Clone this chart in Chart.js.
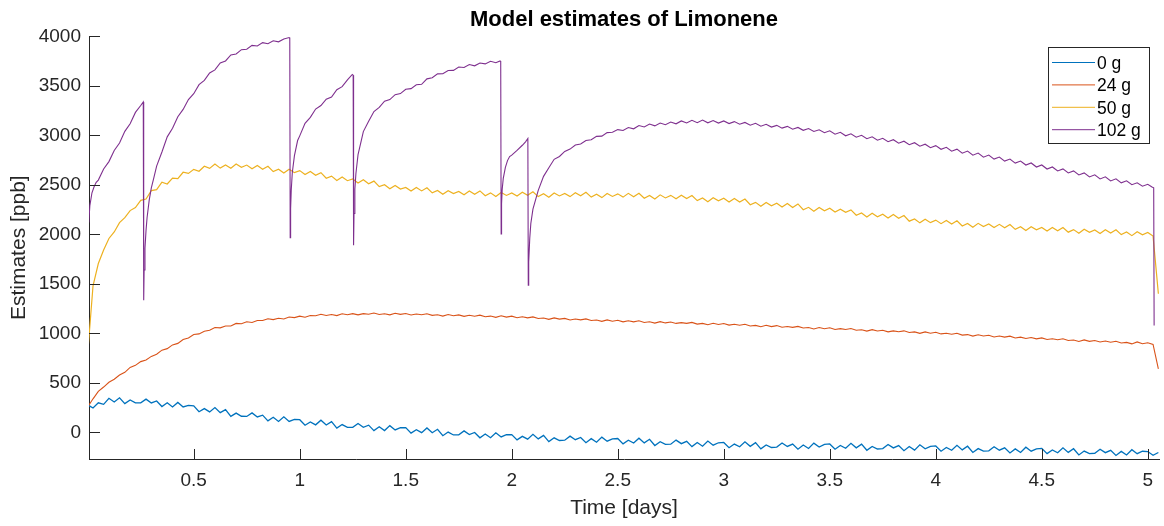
<!DOCTYPE html>
<html>
<head>
<meta charset="utf-8">
<title>Model estimates of Limonene</title>
<script src="https://cdn.jsdelivr.net/npm/chart.js@4.4.1/dist/chart.umd.min.js"></script>
<style>
  html, body { margin: 0; padding: 0; background: #fff; }
  #limoneneChart { display: block; }
</style>
</head>
<body>
<canvas id="limoneneChart" width="1164" height="526"></canvas>
<script>
// Sample times in days (one reading every 0.025 d, 0 .. 5.05)
const days = Array.from({ length: 203 }, (_, i) => +(i * 0.025).toFixed(3));

const seriesLabels = ["0 g", "24 g", "50 g", "102 g"];
const seriesColors = ["#0072BD", "#D95319", "#EDB120", "#7E2F8E"];

const xTickValues = [0.5, 1, 1.5, 2, 2.5, 3, 3.5, 4, 4.5, 5];
const yTickValues = [0, 500, 1000, 1500, 2000, 2500, 3000, 3500, 4000];

// 0 g estimates [ppb] (noisy)
const est0g = [
  277, 245, 298, 282, 343, 306, 348, 290, 327, 298,
  297, 335, 296, 316, 260, 298, 256, 302, 256, 272,
  267, 208, 239, 206, 250, 198, 229, 161, 194, 162,
  160, 196, 155, 173, 115, 151, 109, 156, 110, 129,
  127, 71, 105, 75, 122, 73, 107, 42, 78, 49,
  50, 89, 51, 72, 17, 56, 17, 67, 24, 46,
  47, -9, 26, -4, 44, -5, 30, -35, 2, -27,
  -25, 14, -23, -2, -56, -17, -55, -5, -47, -25,
  -23, -77, -41, -69, -20, -67, -31, -94, -56, -83,
  -80, -39, -75, -52, -105, -64, -101, -49, -90, -66,
  -63, -117, -81, -109, -60, -107, -71, -134, -96, -123,
  -120, -79, -115, -92, -145, -104, -141, -89, -130, -106,
  -103, -156, -119, -146, -96, -142, -105, -167, -128, -154,
  -150, -108, -143, -119, -171, -129, -164, -110, -149, -123,
  -118, -171, -134, -161, -111, -157, -120, -182, -143, -169,
  -165, -123, -158, -134, -186, -144, -180, -127, -167, -142,
  -138, -191, -154, -182, -132, -178, -141, -204, -165, -191,
  -187, -146, -181, -157, -209, -168, -204, -151, -191, -167,
  -163, -216, -179, -207, -157, -203, -166, -229, -190, -216,
  -212, -171, -206, -182, -234, -193, -229, -176, -216, -192,
  -195, -232, -204
];

// 24 g estimates [ppb]
const est24g = [
  255, 338, 413, 457, 505, 536, 579, 606, 655, 676,
  714, 731, 767, 789, 830, 845, 883, 898, 938, 953,
  988, 994, 1021, 1031, 1059, 1055, 1074, 1074, 1100, 1097,
  1116, 1110, 1130, 1129, 1147, 1138, 1152, 1145, 1165, 1159,
  1173, 1163, 1179, 1177, 1193, 1180, 1190, 1179, 1197, 1188,
  1199, 1186, 1199, 1192, 1205, 1190, 1198, 1186, 1202, 1191,
  1200, 1185, 1195, 1187, 1198, 1181, 1188, 1174, 1190, 1178,
  1186, 1171, 1182, 1173, 1184, 1168, 1174, 1161, 1177, 1164,
  1173, 1157, 1167, 1156, 1166, 1149, 1155, 1141, 1156, 1143,
  1151, 1135, 1145, 1136, 1146, 1129, 1135, 1121, 1136, 1122,
  1132, 1116, 1127, 1116, 1127, 1110, 1116, 1103, 1118, 1105,
  1114, 1100, 1108, 1100, 1110, 1093, 1100, 1086, 1101, 1089,
  1099, 1083, 1091, 1081, 1091, 1074, 1080, 1066, 1081, 1068,
  1078, 1061, 1069, 1060, 1070, 1053, 1058, 1044, 1059, 1046,
  1056, 1038, 1047, 1038, 1048, 1031, 1036, 1022, 1037, 1024,
  1031, 1015, 1025, 1016, 1025, 1008, 1014, 1000, 1014, 1001,
  1011, 994, 1000, 991, 1000, 982, 987, 972, 986, 973,
  980, 963, 972, 962, 971, 953, 961, 947, 958, 944,
  954, 938, 945, 935, 945, 927, 933, 918, 933, 919,
  927, 913, 922, 910, 920, 902, 908, 893, 913, 894,
  904, 888, 640
];

// 50 g estimates [ppb]
const est50g = [
  800, 1480, 1705, 1842, 1958, 2024, 2118, 2168, 2240, 2270,
  2344, 2357, 2442, 2451, 2527, 2509, 2568, 2562, 2627, 2616,
  2657, 2637, 2688, 2666, 2710, 2669, 2701, 2668, 2710, 2678,
  2700, 2662, 2695, 2658, 2688, 2634, 2658, 2619, 2657, 2623,
  2644, 2604, 2635, 2596, 2623, 2567, 2588, 2545, 2580, 2542,
  2560, 2519, 2551, 2511, 2538, 2482, 2502, 2460, 2494, 2457,
  2474, 2438, 2474, 2439, 2471, 2419, 2444, 2406, 2441, 2412,
  2434, 2400, 2439, 2405, 2439, 2390, 2419, 2382, 2423, 2393,
  2419, 2387, 2426, 2394, 2430, 2381, 2410, 2375, 2418, 2388,
  2414, 2381, 2421, 2389, 2425, 2376, 2405, 2371, 2413, 2383,
  2409, 2376, 2414, 2380, 2415, 2365, 2393, 2357, 2399, 2368,
  2394, 2359, 2396, 2362, 2392, 2341, 2367, 2330, 2370, 2338,
  2364, 2327, 2362, 2326, 2357, 2299, 2323, 2284, 2322, 2288,
  2314, 2277, 2312, 2271, 2307, 2249, 2273, 2234, 2272, 2238,
  2264, 2226, 2254, 2223, 2247, 2193, 2216, 2176, 2213, 2178,
  2204, 2166, 2200, 2163, 2190, 2133, 2156, 2116, 2153, 2118,
  2144, 2108, 2140, 2105, 2137, 2085, 2110, 2072, 2111, 2078,
  2104, 2069, 2101, 2066, 2100, 2050, 2076, 2039, 2077, 2045,
  2069, 2034, 2070, 2036, 2069, 2022, 2048, 2012, 2052, 2020,
  2044, 2009, 2047, 2014, 2046, 1997, 2023, 1987, 2027, 1995,
  2019, 1982, 1400
];

// 102 g estimates as [day, ppb]; the refills make it saw-toothed
const est102g = [
  [0, 1870], [0.005, 2120], [0.01, 2290], [0.02, 2420], [0.03, 2480], [0.04, 2525],
  [0.05, 2548], [0.075, 2660], [0.1, 2735], [0.125, 2848], [0.15, 2922], [0.175, 3041],
  [0.2, 3118], [0.225, 3232], [0.25, 3302], [0.262, 3338],
  [0.264, 1335], [0.266, 1640], [0.27, 1860], [0.275, 2040], [0.28, 2170], [0.29, 2345],
  [0.3, 2470], [0.31, 2555], [0.325, 2690], [0.35, 2832], [0.375, 2985], [0.4, 3072],
  [0.425, 3188], [0.45, 3262], [0.475, 3362], [0.5, 3421], [0.525, 3512], [0.55, 3556],
  [0.575, 3631], [0.6, 3662], [0.625, 3731], [0.65, 3752], [0.675, 3812], [0.7, 3822],
  [0.725, 3866], [0.75, 3870], [0.775, 3909], [0.8, 3903], [0.825, 3937], [0.85, 3926],
  [0.875, 3956], [0.9, 3945], [0.925, 3974], [0.95, 3988], [0.953, 3980],
  [0.955, 1965], [0.957, 2260], [0.96, 2450], [0.965, 2625], [0.975, 2795], [0.99, 2948],
  [1.0, 2995], [1.025, 3122], [1.05, 3182], [1.075, 3266], [1.1, 3302], [1.125, 3366],
  [1.15, 3388], [1.175, 3461], [1.2, 3492], [1.225, 3561], [1.248, 3615], [1.252, 3608],
  [1.254, 1890], [1.256, 2210], [1.26, 2455], [1.265, 2615], [1.275, 2805], [1.29, 2945],
  [1.3, 3038], [1.325, 3142], [1.35, 3241], [1.375, 3282], [1.4, 3346], [1.425, 3362],
  [1.45, 3411], [1.475, 3422], [1.5, 3466], [1.525, 3472], [1.55, 3511], [1.575, 3516],
  [1.6, 3571], [1.625, 3582], [1.65, 3621], [1.675, 3622], [1.7, 3656], [1.725, 3657],
  [1.75, 3691], [1.775, 3686], [1.8, 3716], [1.825, 3703], [1.85, 3731], [1.875, 3722],
  [1.9, 3749], [1.925, 3734], [1.945, 3752], [1.948, 3745],
  [1.95, 2005], [1.952, 2310], [1.955, 2455], [1.96, 2565], [1.97, 2676], [1.98, 2745],
  [1.99, 2786], [2.0, 2800], [2.025, 2848], [2.05, 2900], [2.065, 2935], [2.076, 2968],
  [2.078, 1485], [2.08, 1720], [2.085, 1960], [2.09, 2110], [2.1, 2255], [2.125, 2445],
  [2.15, 2586], [2.175, 2672], [2.2, 2758], [2.225, 2787], [2.25, 2838], [2.275, 2861],
  [2.3, 2902], [2.325, 2912], [2.35, 2948], [2.375, 2955], [2.4, 2990], [2.425, 2992],
  [2.45, 3028], [2.475, 3031], [2.5, 3058], [2.525, 3049], [2.55, 3079], [2.575, 3066],
  [2.6, 3099], [2.625, 3085], [2.65, 3114], [2.675, 3096], [2.7, 3124], [2.725, 3108],
  [2.75, 3135], [2.775, 3117], [2.8, 3146], [2.825, 3125], [2.85, 3152], [2.875, 3128],
  [2.9, 3155], [2.925, 3127], [2.95, 3150], [2.975, 3124], [3.0, 3146], [3.025, 3119],
  [3.05, 3139], [3.075, 3113], [3.1, 3131], [3.125, 3103], [3.15, 3122], [3.175, 3093],
  [3.2, 3112], [3.225, 3084], [3.25, 3101], [3.275, 3073], [3.3, 3091], [3.325, 3062],
  [3.35, 3080], [3.375, 3051], [3.4, 3069], [3.425, 3039], [3.45, 3056], [3.475, 3027],
  [3.5, 3046], [3.525, 3012], [3.55, 3031], [3.575, 2996], [3.6, 3016], [3.625, 2981],
  [3.65, 3001], [3.675, 2966], [3.7, 2986], [3.725, 2951], [3.75, 2971], [3.775, 2936],
  [3.8, 2956], [3.825, 2921], [3.85, 2941], [3.875, 2906], [3.9, 2926], [3.925, 2891],
  [3.95, 2911], [3.975, 2876], [4.0, 2896], [4.025, 2859], [4.05, 2879], [4.075, 2840],
  [4.1, 2861], [4.125, 2820], [4.15, 2841], [4.175, 2800], [4.2, 2821], [4.225, 2780],
  [4.25, 2801], [4.275, 2760], [4.3, 2781], [4.325, 2740], [4.35, 2761], [4.375, 2720],
  [4.4, 2741], [4.425, 2700], [4.45, 2721], [4.475, 2680], [4.5, 2701], [4.525, 2660],
  [4.55, 2681], [4.575, 2640], [4.6, 2661], [4.625, 2620], [4.65, 2641], [4.675, 2600],
  [4.7, 2621], [4.725, 2580], [4.75, 2601], [4.775, 2560], [4.8, 2581], [4.825, 2540],
  [4.85, 2561], [4.875, 2520], [4.9, 2541], [4.925, 2502], [4.95, 2521], [4.975, 2486],
  [5.0, 2506], [5.02, 2478], [5.028, 2470], [5.03, 1080]
];

const FONT = '"Liberation Sans", Arial, Helvetica, sans-serif';
const AXIS_COLOR = "#262626";

// MATLAB style tick marks pointing into the plot
const innerTicks = {
  id: "innerTicks",
  afterDatasetsDraw(chart) {
    const { ctx, chartArea, scales } = chart;
    ctx.save();
    ctx.strokeStyle = AXIS_COLOR;
    ctx.lineWidth = 1;
    ctx.beginPath();
    scales.x.ticks.forEach(t => {
      const px = Math.round(scales.x.getPixelForValue(t.value)) + 0.5;
      ctx.moveTo(px, chartArea.bottom);
      ctx.lineTo(px, chartArea.bottom - 10);
    });
    scales.y.ticks.forEach(t => {
      const py = Math.round(scales.y.getPixelForValue(t.value)) + 0.5;
      ctx.moveTo(chartArea.left, py);
      ctx.lineTo(chartArea.left + 11, py);
    });
    ctx.stroke();
    ctx.restore();
  }
};

// boxed legend in the top right corner
const boxLegend = {
  id: "boxLegend",
  afterDraw(chart) {
    const { ctx } = chart;
    const bx = 1048.5, by = 47.5, bw = 101, bh = 96;
    ctx.save();
    ctx.fillStyle = "#fff";
    ctx.fillRect(bx, by, bw, bh);
    ctx.strokeStyle = AXIS_COLOR;
    ctx.lineWidth = 1;
    ctx.strokeRect(bx, by, bw, bh);
    ctx.font = "17.5px " + FONT;
    ctx.textBaseline = "middle";
    chart.data.datasets.forEach((ds, i) => {
      const ry = 62.5 + i * 22.4;
      ctx.strokeStyle = ds.borderColor;
      ctx.beginPath();
      ctx.moveTo(1052, ry);
      ctx.lineTo(1095, ry);
      ctx.stroke();
      ctx.fillStyle = "#000";
      ctx.fillText(ds.label, 1097, ry + 1.5);
    });
    ctx.restore();
  }
};

function renderChart() {
  const ctx = document.getElementById("limoneneChart").getContext("2d");
  Chart.defaults.font.family = FONT;

  const onDays = vals => vals.map((v, i) => ({ x: days[i], y: v }));

  new Chart(ctx, {
    type: "line",
    data: {
      datasets: [
        { label: seriesLabels[0], data: onDays(est0g), borderColor: seriesColors[0], borderWidth: 1.3, order: 3 },
        { label: seriesLabels[1], data: onDays(est24g), borderColor: seriesColors[1], order: 2 },
        { label: seriesLabels[2], data: onDays(est50g), borderColor: seriesColors[2], borderWidth: 1.2, order: 1 },
        { label: seriesLabels[3], data: est102g.map(p => ({ x: p[0], y: p[1] })), borderColor: seriesColors[3], order: 0 }
      ]
    },
    options: {
      responsive: false,
      animation: false,
      layout: { padding: { left: 4, right: 5, top: 0, bottom: 0 } },
      elements: {
        point: { radius: 0 },
        line: { borderWidth: 1.1, tension: 0, fill: false }
      },
      plugins: {
        legend: { display: false },
        tooltip: { enabled: false },
        title: {
          display: true,
          text: "Model estimates of Limonene",
          fullSize: false,
          color: "#000",
          font: { size: 22, weight: "bold" },
          padding: { top: 7, bottom: 3 }
        }
      },
      scales: {
        x: {
          type: "linear",
          min: 0.006,
          max: 5.053,
          grid: { display: false, drawTicks: false },
          border: { display: true, color: AXIS_COLOR, width: 1 },
          ticks: {
            padding: 10,
            color: AXIS_COLOR,
            font: { size: 19 },
            autoSkip: false,
            maxRotation: 0,
            callback: v => String(v)
          },
          afterBuildTicks: s => { s.ticks = xTickValues.map(v => ({ value: v })); },
          afterFit: s => { s.height = 67; },
          title: {
            display: true,
            text: "Time [days]",
            color: AXIS_COLOR,
            font: { size: 21 },
            padding: { top: 0, bottom: 5 }
          }
        },
        y: {
          type: "linear",
          min: -270,
          max: 4000,
          grid: { display: false, drawTicks: false },
          border: { display: true, color: AXIS_COLOR, width: 1 },
          ticks: {
            padding: 8,
            color: AXIS_COLOR,
            font: { size: 19 },
            callback: v => String(v)
          },
          afterBuildTicks: s => { s.ticks = yTickValues.map(v => ({ value: v })); },
          afterFit: s => { s.width = 85; },
          title: {
            display: true,
            text: "Estimates [ppb]",
            color: AXIS_COLOR,
            font: { size: 21 },
            padding: { top: 3, bottom: 0 }
          }
        }
      }
    },
    plugins: [innerTicks, boxLegend]
  });
}

renderChart();
</script>
</body>
</html>
